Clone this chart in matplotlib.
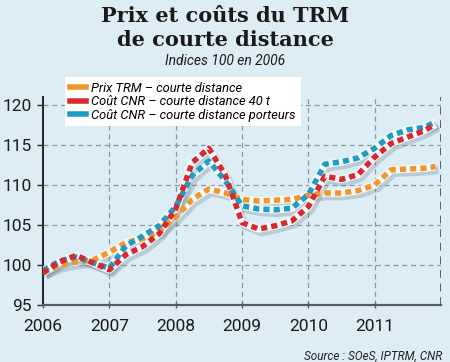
import matplotlib
matplotlib.use("Agg")
import matplotlib.pyplot as plt
import matplotlib.patheffects as pe
from matplotlib.lines import Line2D
import numpy as np

# months since Jan 2006 at which values were read
months = [0, 3, 6, 9, 12, 15, 18, 21, 24, 27, 30, 33, 36, 39, 42, 45, 48, 51,
          54, 57, 60, 63, 66, 69, 71]

prix_trm = [99.1, 100.0, 100.4, 100.6, 101.6, 102.8, 103.3, 104.2, 106.0, 108.2,
            109.5, 109.0, 108.2, 108.0, 108.1, 108.2, 108.7, 109.0, 109.0, 109.3,
            110.0, 111.9, 112.0, 112.1, 112.3]
cout_40t = [99.0, 100.4, 101.2, 100.3, 99.4, 101.3, 102.3, 103.9, 107.0, 112.8,
            114.6, 111.2, 105.3, 104.5, 104.9, 105.5, 107.3, 111.1, 110.7, 111.3,
            113.5, 115.2, 116.0, 116.8, 117.6]
cout_porteurs = [99.3, 100.5, 101.0, 100.3, 99.6, 102.4, 103.6, 104.9, 107.3, 111.2,
                 113.0, 110.5, 107.4, 107.0, 106.9, 107.1, 108.8, 112.6, 112.9, 113.4,
                 114.6, 116.2, 116.9, 117.2, 117.9]

labels = ["Prix TRM – courte distance",
          "Coût CNR – courte distance 40 t",
          "Coût CNR – courte distance porteurs"]
colors = ["#f0962a", "#d62a30", "#1f9cc4"]
years = [2006, 2007, 2008, 2009, 2010, 2011]

bg = "#dcedf6"
x = 2006 + np.array(months) / 12.0

fig = plt.figure(figsize=(4.5, 3.62), dpi=100, facecolor=bg)
ax = fig.add_axes([43 / 450, 1 - 305 / 362, 398 / 450, 208 / 362])
ax.set_facecolor(bg)

# draw order: orange, blue, red on top
for series, col in [(prix_trm, colors[0]), (cout_porteurs, colors[2]), (cout_40t, colors[1])]:
    ax.plot(x, series, color="#f4f9fc", lw=5.5, solid_capstyle="butt", zorder=3,
            path_effects=[pe.SimpleLineShadow(offset=(2, -2.5), shadow_color="#6a7f8a", alpha=0.3),
                          pe.Normal()])
    ax.plot(x, series, color=col, lw=4, dashes=(1.1, 0.75), dash_capstyle="butt", zorder=4)

ax.set_xlim(2006, 2012)
ax.set_ylim(95, 121)
ax.set_yticks([95, 100, 105, 110, 115, 120])
ax.set_xticks(years)
ax.set_xticklabels([str(y) for y in years])

for v in [100, 105, 110, 115, 120]:
    ax.axhline(v, color="#8d959a", lw=0.9, ls=(0, (4, 3)), zorder=1)
for yr in years[1:]:
    ax.axvline(yr, color="#8d959a", lw=0.9, ls=(0, (4, 3)), zorder=1)
ax.axvline(2012, color="#55606a", lw=1.4, ls=(0, (4, 3)), zorder=1)

for s in ["top", "right"]:
    ax.spines[s].set_visible(False)
ax.spines["left"].set_color("#2b2b2b")
ax.spines["left"].set_linewidth(1.5)
ax.spines["bottom"].set_color("#555b60")
ax.spines["bottom"].set_linewidth(1.6)

ax.tick_params(axis="y", length=4, width=1, colors="#2b2b2b", labelsize=12.5, pad=4)
ax.tick_params(axis="x", length=4, width=1, colors="#555b60", labelsize=12.5, pad=8,
               direction="inout")
for t in ax.get_xticklabels() + ax.get_yticklabels():
    t.set_color("#1a1a1a")
    t.set_fontfamily("Roboto")

handles = [Line2D([0], [0], color=c, lw=4) for c in colors]
leg = fig.legend(handles, labels, loc="upper left", bbox_to_anchor=(65 / 450, 1 - 77 / 362),
                 frameon=True, fancybox=False, framealpha=1, edgecolor="white",
                 prop={"family": "Roboto", "style": "italic", "size": 9.3},
                 handlelength=1.3, handletextpad=0.4, labelspacing=0.05,
                 borderpad=0.35, borderaxespad=0)
leg.get_frame().set_linewidth(0)
leg.set_zorder(10)

fig.text(0.5, 1 - 16 / 362, "Prix et coûts du TRM", ha="center", va="center",
         fontsize=15, fontweight="bold", family="DejaVu Serif", color="#1a1a1a")
fig.text(0.5, 1 - 40 / 362, "de courte distance", ha="center", va="center",
         fontsize=15, fontweight="bold", family="DejaVu Serif", color="#1a1a1a")
fig.text(0.5, 1 - 61 / 362, "Indices 100 en 2006", ha="center", va="center",
         fontsize=10, style="italic", family="Roboto", color="#1a1a1a")
fig.text(442 / 450, 1 - 356 / 362, "Source : SOeS, IPTRM, CNR", ha="right", va="center",
         fontsize=8.5, style="italic", family="Roboto", color="#222222")

fig.savefig("out.png", dpi=100, facecolor=bg)
